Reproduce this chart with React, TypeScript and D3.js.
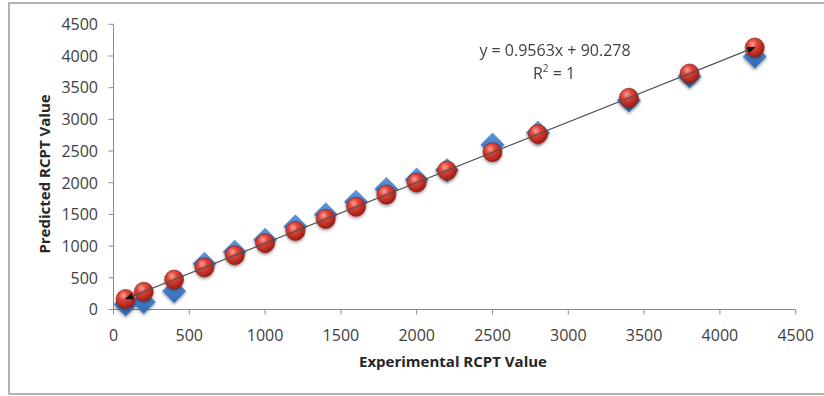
import React from "react";
import * as d3 from "d3";

const experimental = [80, 200, 400, 600, 800, 1000, 1200, 1400, 1600, 1800, 2000, 2200, 2500, 2800, 3400, 3800, 4230];
const actualValues = [80, 120, 290, 720, 910, 1100, 1310, 1500, 1700, 1900, 2050, 2200, 2600, 2790, 3300, 3680, 3990];
const predictedValues = [167, 282, 473, 664, 855, 1047, 1238, 1429, 1620, 1812, 2003, 2194, 2481, 2768, 3342, 3724, 4135];
const xTicks = [0, 500, 1000, 1500, 2000, 2500, 3000, 3500, 4000, 4500];
const yTicks = [0, 500, 1000, 1500, 2000, 2500, 3000, 3500, 4000, 4500];
const trendSlope = 0.9563;
const trendIntercept = 90.278;
const equationLabel = "y = 0.9563x + 90.278";
const xTitle = "Experimental RCPT Value";
const yTitle = "Predicted RCPT Value";

const W = 824;
const H = 396;
const left = 113.5;
const right = 795.7;
const top = 24.3;
const bottom = 309.5;

export default function App() {
  const x = d3.scaleLinear().domain([0, 4500]).range([left, right]);
  const y = d3.scaleLinear().domain([0, 4500]).range([bottom, top]);
  const font = "'Open Sans', 'Liberation Sans', sans-serif";
  const diamond = d3.symbol().type(d3.symbolSquare).size(270)();
  const x0 = d3.min(experimental)!;
  const x1 = d3.max(experimental)!;
  const line = d3.line<number>().x((d) => x(d)).y((d) => y(trendSlope * d + trendIntercept));
  return (
    <svg width={W} height={H} style={{ position: "absolute", left: 0, top: 0, background: "#fff" }}>
      <defs>
        <radialGradient id="redG" cx="38%" cy="32%" r="70%">
          <stop offset="0%" stopColor="#f7a39a" />
          <stop offset="35%" stopColor="#e0453a" />
          <stop offset="100%" stopColor="#9c1d14" />
        </radialGradient>
        <linearGradient id="blueG" x1="0" y1="0" x2="1" y2="1">
          <stop offset="0%" stopColor="#5d98e0" />
          <stop offset="100%" stopColor="#2c66b2" />
        </linearGradient>
        <filter id="shadow" x="-50%" y="-50%" width="200%" height="200%">
          <feGaussianBlur in="SourceAlpha" stdDeviation="1.6" />
          <feOffset dx="0" dy="2" result="b" />
          <feComponentTransfer><feFuncA type="linear" slope="0.35" /></feComponentTransfer>
          <feMerge><feMergeNode /><feMergeNode in="SourceGraphic" /></feMerge>
        </filter>
        <marker id="arrowEnd" viewBox="0 0 10 10" refX="9" refY="5" markerWidth="7" markerHeight="7" orient="auto">
          <path d="M0,1 L10,5 L0,9 Z" fill="#111" />
        </marker>
        <marker id="arrowStart" viewBox="0 0 10 10" refX="1" refY="5" markerWidth="7" markerHeight="7" orient="auto">
          <path d="M10,1 L0,5 L10,9 Z" fill="#111" />
        </marker>
      </defs>
      <rect x={9} y={3} width={820} height={391} fill="#fff" stroke="#9a9a9a" strokeWidth={1.5} />
      <line x1={left} x2={left} y1={top} y2={bottom} stroke="#8c8c8c" />
      <line x1={left} x2={right} y1={bottom} y2={bottom} stroke="#8c8c8c" />
      {yTicks.map((t) => (
        <g key={"y" + t}>
          <line x1={left - 5} x2={left} y1={y(t)} y2={y(t)} stroke="#8c8c8c" />
          <text x={98} y={y(t)} dy="0.36em" textAnchor="end" fontFamily={font} fontSize={16} fill="#404040">{t}</text>
        </g>
      ))}
      {xTicks.map((t) => (
        <g key={"x" + t}>
          <line x1={x(t)} x2={x(t)} y1={bottom} y2={bottom + 5} stroke="#8c8c8c" />
          <text x={x(t)} y={341} textAnchor="middle" fontFamily={font} fontSize={16} fill="#404040">{t}</text>
        </g>
      ))}
      <text x={453} y={367} textAnchor="middle" fontFamily={font} fontSize={15} fontWeight="bold" fill="#262626">{xTitle}</text>
      <text transform={`translate(50,174) rotate(-90)`} textAnchor="middle" fontFamily={font} fontSize={15} fontWeight="bold" fill="#262626">{yTitle}</text>
      <g filter="url(#shadow)">
        {experimental.map((e, i) => (
          <path key={"d" + i} d={diamond!} transform={`translate(${x(e)},${y(actualValues[i])}) rotate(45)`} fill="url(#blueG)" stroke="#3a6db0" strokeWidth={0.5} />
        ))}
      </g>
      <g filter="url(#shadow)">
        {experimental.map((e, i) => (
          <circle key={"c" + i} cx={x(e)} cy={y(predictedValues[i])} r={9.5} fill="url(#redG)" stroke="#8a1a12" strokeWidth={0.6} />
        ))}
      </g>
      <path d={line([x0, x1])!} fill="none" stroke="#505050" strokeWidth={1.2} markerStart="url(#arrowStart)" markerEnd="url(#arrowEnd)" />
      <text x={555} y={56} textAnchor="middle" fontFamily={font} fontSize={16} fill="#404040">{equationLabel}</text>
      <text x={554} y={79} textAnchor="middle" fontFamily={font} fontSize={16} fill="#404040">
        R<tspan fontSize={10} dy={-7}>2</tspan><tspan dy={7}> = 1</tspan>
      </text>
    </svg>
  );
}
